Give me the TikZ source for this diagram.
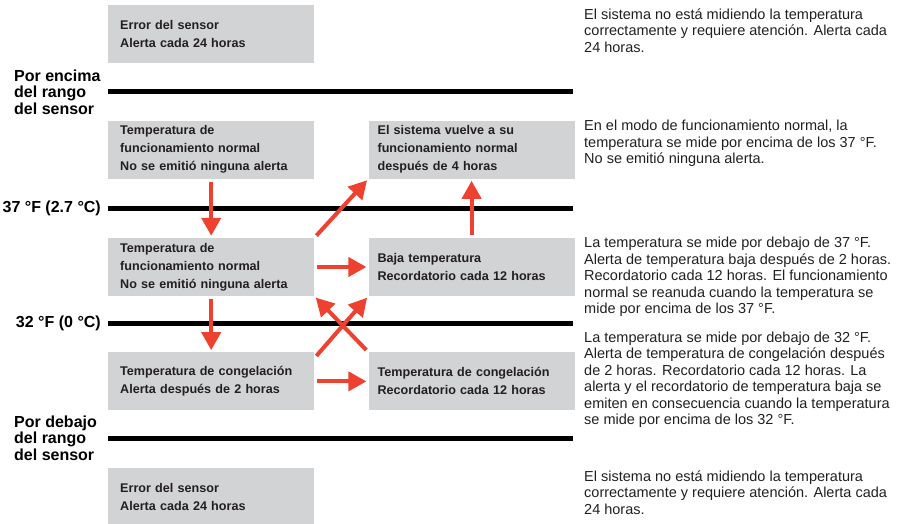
\documentclass[tikz,border=0pt]{standalone}
\usepackage{fontspec}
\setmainfont{Liberation Sans}
\usetikzlibrary{positioning}
\usetikzlibrary{arrows.meta}
\definecolor{boxgray}{HTML}{D1D3D4}
\definecolor{alertred}{HTML}{EE4130}
\definecolor{ink}{HTML}{231F20}
\tikzset{state/.style={fill=boxgray,minimum width=206pt,minimum height=58pt,inner xsep=12pt,inner ysep=0pt,text width=182pt,align=left,text=ink,font=\bfseries\fontsize{12.6}{18}\selectfont}}
\tikzset{rstate/.style={state,inner xsep=9pt,text width=188pt}}
\tikzset{level/.style={line width=5pt,black}}
\tikzset{side/.style={inner sep=0pt,align=left,text=black,font=\bfseries\fontsize{16}{16.5}\selectfont}}
\tikzset{note/.style={inner sep=0pt,align=left,text=ink,font=\fontsize{14.5}{16.5}\selectfont}}
\tikzset{flow/.style={alertred,line width=4pt,-{Triangle[length=18pt,width=19pt]},shorten <=3pt,shorten >=2pt}}

\begin{document}
\begin{tikzpicture}[x=1pt,y=1pt]
            \useasboundingbox (0,0) rectangle (897,-524);
            % left column
            \node [state,anchor=north west] (errtop) at (108,-5) {Error del sensor\\Alerta cada 24 horas};
            \node [state,below=57pt of errtop] (normal) {Temperatura de\\funcionamiento normal\\No se emitió ninguna alerta};
            \node [state,below=59pt of normal] (low) {Temperatura de\\funcionamiento normal\\No se emitió ninguna alerta};
            \node [state,below=56pt of low] (freeze) {Temperatura de congelación\\Alerta después de 2 horas};
            \node [state,below=57pt of freeze] (errbot) {Error del sensor\\Alerta cada 24 horas};
            % right column
            \node [rstate,right=54pt of normal] (resume) {El sistema vuelve a su\\funcionamiento normal\\después de 4 horas};
            \node [rstate,right=54pt of low] (lowtemp) {Baja temperatura\\Recordatorio cada 12 horas};
            \node [rstate,right=54pt of freeze] (freezerem) {Temperatura de congelación\\Recordatorio cada 12 horas};
            % levels
            \draw[level] (108,-92) -- (573,-92);
            \draw[level] (108,-208) -- (573,-208);
            \draw[level] (108,-323.5) -- (573,-323.5);
            \draw[level] (108,-438) -- (573,-438);
            \node [side,anchor=west] (abovelbl) at (14,-92) {Por encima\\del rango\\del sensor};
            \node [side,anchor=east] (lbltop) at (101,-208) {37 °F (2.7 °C)};
            \node [side,anchor=east] (lblbot) at (101,-323.5) {32 °F (0 °C)};
            \node [side,anchor=west] (belowlbl) at (14,-438) {Por debajo\\del rango\\del sensor};
            % notes
            \node [note,anchor=west] (notea) at (584,-30.5) {El sistema no está midiendo la temperatura\\correctamente y requiere atención. Alerta cada\\24 horas.};
            \node [note,anchor=west] (noteb) at (584,-143.5) {En el modo de funcionamiento normal, la\\temperatura se mide por encima de los 37 °F.\\No se emitió ninguna alerta.};
            \node [note,anchor=west] (notec) at (584,-277) {La temperatura se mide por debajo de 37 °F.\\Alerta de temperatura baja después de 2 horas.\\Recordatorio cada 12 horas. El funcionamiento\\normal se reanuda cuando la temperatura se\\mide por encima de los 37 °F.};
            \node [note,anchor=west] (noted) at (584,-379.5) {La temperatura se mide por debajo de 32 °F.\\Alerta de temperatura de congelación después\\de 2 horas. Recordatorio cada 12 horas. La\\alerta y el recordatorio de temperatura baja se\\emiten en consecuencia cuando la temperatura\\se mide por encima de los 32 °F.};
            \node [note,anchor=west] (notee) at (584,-492.5) {El sistema no está midiendo la temperatura\\correctamente y requiere atención. Alerta cada\\24 horas.};
            % transitions
            \draw[flow] (normal.south) -- (low.north);
            \draw[flow] (low.south) -- (freeze.north);
            \draw[flow] (low.north east) -- (resume.south west);
            \draw[flow] (lowtemp.north) -- (resume.south);
            \draw[flow] (low.east) -- (lowtemp.west);
            \draw[flow] ([yshift=-6pt]freeze.north east) -- (lowtemp.south west);
            \draw[flow] (freezerem.north west) -- (low.south east);
            \draw[flow] (freeze.east) -- (freezerem.west);
        \end{tikzpicture}
\end{document}
